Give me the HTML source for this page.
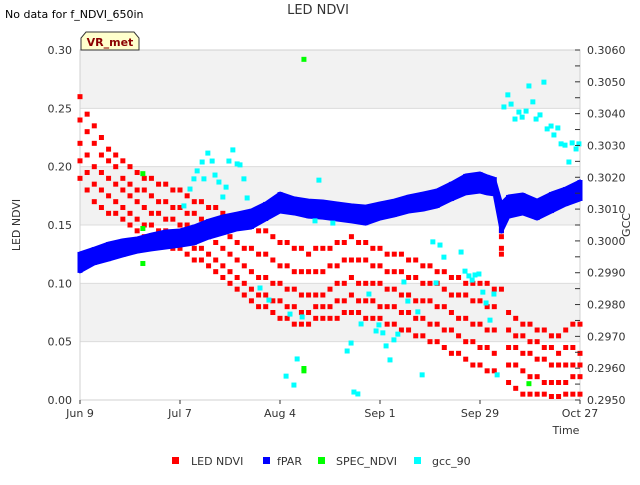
<!DOCTYPE html>
<html><head><meta charset="utf-8"><style>
body{margin:0;background:#fff;font-family:"Liberation Sans","DejaVu Sans",sans-serif}
svg text{font-family:"DejaVu Sans","Liberation Sans",sans-serif}
</style></head><body>
<svg id="c" width="640" height="480" xmlns="http://www.w3.org/2000/svg"></svg>
<script>
const xTicks=["Jun 9","Jul 7","Aug 4","Sep 1","Sep 29","Oct 27"];
const xTickDays=[0,28,56,84,112,140];
const yTicks=[0,0.05,0.1,0.15,0.2,0.25,0.3];
const y2Ticks=[0.295,0.296,0.297,0.298,0.299,0.300,0.301,0.302,0.303,0.304,0.305,0.306];
const redDays=[0,2,4,6,8,10,12,14,16,18,20,22,24,26,28,30,32,34,36,38,40,42,44,46,48,50,52,54,56,58,60,62,64,66,68,70,72,74,76,78,80,82,84,86,88,90,92,94,96,98,100,102,104,106,108,110,112,114,116,118,120,122,124,126,128,130,132,134,136,138,140];
const redVals=[
[.26,.24,.22,.205,.19],[.245,.23,.21,.195,.18],[.235,.22,.20,.185,.17],[.225,.21,.195,.18,.165],[.215,.205,.19,.175,.16],
[.21,.20,.185,.17,.16],[.205,.19,.18,.165,.155],[.20,.185,.175,.16,.15],[.195,.18,.17,.155,.145],[.19,.18,.165,.15,.14],
[.19,.175,.16,.15,.14],[.185,.17,.16,.145,.135],[.185,.17,.155,.145,.135],[.18,.165,.155,.14,.13],[.18,.165,.15,.14,.13],
[.175,.16,.15,.135,.125],[.17,.16,.145,.13,.12],[.17,.155,.14,.13,.12],[.165,.15,.14,.125,.115],[.165,.15,.135,.12,.11],
[.16,.145,.13,.115,.105],[.155,.14,.125,.11,.10],[.155,.135,.12,.105,.095],[.15,.13,.115,.10,.09],[.15,.13,.11,.095,.085],
[.145,.125,.105,.09,.08],[.145,.125,.105,.09,.08],[.14,.12,.10,.085,.075],[.135,.115,.10,.085,.07],[.135,.115,.095,.08,.07],
[.13,.11,.095,.08,.065],[.13,.11,.09,.075,.065],[.125,.11,.09,.075,.065],[.13,.11,.09,.08,.07],[.13,.11,.09,.08,.07],
[.13,.115,.095,.08,.07],[.135,.115,.10,.085,.07],[.135,.12,.10,.085,.075],[.14,.12,.105,.09,.075],[.135,.12,.10,.085,.075],
[.135,.12,.10,.085,.07],[.13,.115,.10,.085,.07],[.13,.115,.10,.08,.07],[.125,.11,.095,.08,.065],[.125,.11,.095,.08,.065],
[.125,.11,.09,.075,.06],[.12,.105,.09,.075,.06],[.12,.105,.085,.07,.055],[.115,.10,.085,.07,.055],[.115,.10,.085,.065,.05],
[.11,.10,.08,.065,.05],[.11,.095,.08,.06,.045],[.105,.09,.075,.06,.04],[.105,.09,.07,.055,.04],[.10,.09,.07,.05,.035],
[.10,.085,.065,.05,.03],[.10,.085,.065,.045,.03],[.10,.08,.06,.045,.025],[.095,.08,.06,.04,.025],[.14,.13,.125,.145,.095],
[.075,.06,.045,.03,.015],[.07,.055,.045,.03,.01],[.065,.055,.04,.025,.005],[.065,.05,.04,.02,.005],[.06,.05,.035,.02,.005],
[.06,.045,.035,.015,.005],[.055,.045,.03,.015,.003],[.055,.04,.03,.015,.003],[.06,.045,.03,.015,.005],[.065,.045,.03,.02,.005],[.065,.04,.03,.02,.005]];
const fparDays=[0,4,8,12,16,20,24,28,32,36,40,44,48,52,56,60,64,68,72,76,80,84,88,92,96,100,104,108,112,114,116,118,120,124,128,132,136,140];
const fparHigh=[.29956,.29971,.29987,.29997,.30003,.30015,.30025,.30028,.30041,.30059,.30072,.30081,.30091,.30113,.30144,.30129,.30122,.30119,.30113,.30107,.30103,.30113,.30122,.30135,.30144,.30154,.30176,.30201,.30207,.30198,.30191,.30113,.30135,.30141,.30122,.30144,.30160,.30182];
const fparLow=[.29909,.29934,.29946,.29959,.29971,.29978,.29984,.29990,.29997,.30015,.30028,.30041,.30047,.30072,.30097,.30091,.30081,.30078,.30072,.30066,.30059,.30075,.30085,.30097,.30103,.30113,.30135,.30154,.30160,.30154,.30151,.30034,.30081,.30091,.30075,.30097,.30119,.30135];
const specDays=[62.7,17.6,17.6,17.6,62.7,62.7,125.7];
const specVals=[0.292,0.194,0.147,0.117,0.027,0.025,0.014];
const gccDays=[35.8,42.8,34.2,37.0,41.7,44.0,44.8,32.8,31.9,34.7,37.8,38.9,40.9,45.9,40.0,46.8,66.9,30.8,29.1,65.8,60.8,57.7,59.9,50.4,52.9,58.8,62.2,125.7,129.9,119.8,118.7,120.7,126.8,122.9,124.9,121.8,123.8,128.8,127.7,130.8,131.9,133.8,132.7,134.7,135.8,137.8,138.9,139.7,136.9,98.8,100.8,101.9,106.7,107.8,108.9,109.8,110.6,111.7,112.8,115.9,113.7,114.8,78.7,83.7,82.9,84.8,89.0,87.9,85.7,75.9,74.8,86.8,95.8,116.8,76.7,77.8,70.8,80.9,90.7,91.8,94.6,99.7];
const gccVals=[.30276,.30286,.30248,.30251,.30251,.30242,.30239,.30220,.30195,.30195,.30207,.30185,.30169,.30195,.30138,.30135,.30191,.30163,.30110,.30063,.29629,.29575,.29547,.29852,.29814,.29770,.29761,.30487,.30499,.30459,.30421,.30430,.30437,.30405,.30408,.30383,.30389,.30396,.30383,.30352,.30361,.30355,.30333,.30305,.30301,.30308,.30289,.30305,.30248,.29997,.29987,.29949,.29965,.29905,.29890,.29877,.29893,.29896,.29839,.29833,.29805,.29751,.29739,.29736,.29717,.29711,.29707,.29689,.29670,.29679,.29654,.29626,.29579,.29579,.29525,.29519,.30056,.29833,.29871,.29811,.29777,.29868];

const NS="http://www.w3.org/2000/svg";
const svg=document.getElementById('c');
const L=80,R=580,T=50,B=400;
function X(d){return L+d/140*(R-L);}
function Y(v){return B-v/0.3*(B-T);}
function Y2(v){return B-(v-0.295)/0.011*(B-T);}
function mk(tag,a,txt){const e=document.createElementNS(NS,tag);for(const k in a)e.setAttribute(k,a[k]);if(txt!==undefined)e.textContent=txt;svg.appendChild(e);return e;}

let e;
for(let i=0;i<6;i++){
 e=mk('rect',{x:L,y:Y(0.05*(i+1)),width:R-L,height:Y(0)-Y(0.05),fill:(i%2==1)?'#f2f2f2':'#ffffff'});
 
 
}
yTicks.forEach(v=>{
 e=mk('line',{x1:L,x2:R,y1:Y(v),y2:Y(v),stroke:'#dcdcdc','stroke-width':1});
 
 
 e=mk('text',{x:L-8,y:Y(v)+4,'text-anchor':'end','font-size':11,fill:'#333'},v.toFixed(2));
 
 
});
e=mk('rect',{x:L,y:T,width:R-L,height:B-T,fill:'none',stroke:'#d0d0d0'});


redDays.forEach((d,i)=>{redVals[i].forEach(v=>{
 e=mk('rect',{x:X(d)-2.5,y:Y(v)-2.5,width:5,height:5,fill:'#ff0000'});
 
 
});});
// fPAR band polygon
let pts=[];
fparDays.forEach((d,i)=>pts.push(X(d)+','+(Y2(fparHigh[i])-2)));
for(let i=fparDays.length-1;i>=0;i--)pts.push(X(fparDays[i])+','+(Y2(fparLow[i])+2));
e=mk('polygon',{points:pts.join(' '),fill:'#0000ff',stroke:'#0000ff','stroke-width':3,'stroke-linejoin':'round'});


fparDays.forEach((d,i)=>{
 e=mk('rect',{x:X(d)-2.5,y:Y2(fparHigh[i])-3,width:5,height:Y2(fparLow[i])-Y2(fparHigh[i])+6,fill:'#0000ff'});
 
 
});
gccDays.forEach((d,i)=>{
 e=mk('rect',{x:X(d)-2.5,y:Y2(gccVals[i])-2.5,width:5,height:5,fill:'#00ffff'});
 
 
});
specDays.forEach((d,i)=>{
 e=mk('rect',{x:X(d)-2.5,y:Y(specVals[i])-2.5,width:5,height:5,fill:'#00ff00'});
 
 
});
xTickDays.forEach((d,i)=>{
 e=mk('line',{x1:X(d),x2:X(d),y1:B,y2:B+4,stroke:'#333'});
 
 
 e=mk('text',{x:X(d),y:B+17,'text-anchor':'middle','font-size':11,fill:'#333'},xTicks[i]);
 
 
});
for(let k=0;k<=22;k++){
 const v=0.295+k*0.0005;
 e=mk('line',{x1:R-5,x2:R,y1:Y2(v),y2:Y2(v),stroke:'#333'});
 
 
}
y2Ticks.forEach(v=>{
 e=mk('text',{x:R+7,y:Y2(v)+4,'font-size':11,fill:'#333'},v.toFixed(4));
 
 
});
</script>
<svg width="640" height="480" style="position:absolute;left:0;top:0">
<text x="5" y="18" font-size="11" fill="#000">No data for f_NDVI_650in</text>
<text x="318" y="14" font-size="13" text-anchor="middle" fill="#333">LED NDVI</text>
<path d="M81,50 L81,38 L86,32 L134,32 L139,38 L139,50 Z" fill="#ffffcc" stroke="#333"/>
<text x="110" y="46" font-size="11" font-weight="bold" text-anchor="middle" fill="#8b0000">VR_met</text>
<text x="20" y="225" font-size="11" text-anchor="middle" transform="rotate(-90 20 225)" fill="#333">LED NDVI</text>
<text x="630" y="225" font-size="11" text-anchor="middle" transform="rotate(-90 630 225)" fill="#333">GCC</text>
<text x="566" y="434" font-size="11" text-anchor="middle" fill="#333">Time</text>
<g font-size="11" fill="#333">
<rect x="172" y="457" width="7" height="7" fill="#ff0000"/><text x="191" y="465">LED NDVI</text>
<rect x="263" y="457" width="7" height="7" fill="#0000ff"/><text x="277" y="465">fPAR</text>
<rect x="318" y="457" width="7" height="7" fill="#00ff00"/><text x="336" y="465">SPEC_NDVI</text>
<rect x="414" y="457" width="7" height="7" fill="#00ffff"/><text x="432" y="465">gcc_90</text>
</g>
</svg>
</body></html>
